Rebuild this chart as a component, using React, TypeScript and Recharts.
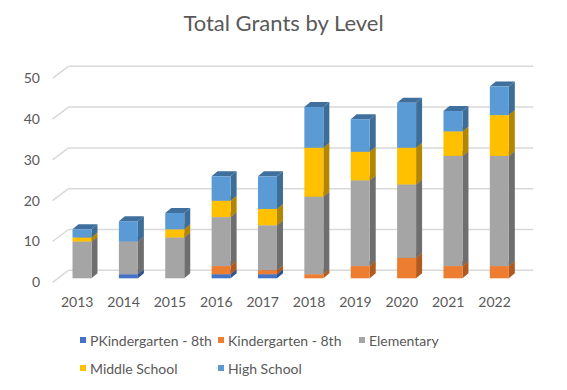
import React from 'react';
import { BarChart, Bar, XAxis, YAxis, CartesianGrid } from 'recharts';

document.body.style.margin = '0';

const years = ['2013', '2014', '2015', '2016', '2017', '2018', '2019', '2020', '2021', '2022'];
const pkinder = [0, 1, 0, 1, 1, 0, 0, 0, 0, 0];
const kinder = [0, 0, 0, 2, 1, 1, 3, 5, 3, 3];
const elementary = [9, 8, 10, 12, 11, 19, 21, 18, 27, 27];
const middle = [1, 0, 2, 4, 4, 12, 7, 9, 6, 10];
const high = [2, 5, 4, 6, 8, 10, 8, 11, 5, 7];
const yTicks = [0, 10, 20, 30, 40, 50];

const series = [
  { key: 'pk', name: 'PKindergarten - 8th', color: '#4472C4', side: '#2f5190', top: '#3761ab' },
  { key: 'k', name: 'Kindergarten - 8th', color: '#ED7D31', side: '#b05a1f', top: '#c9692a' },
  { key: 'e', name: 'Elementary', color: '#A5A5A5', side: '#6e6e6e', top: '#888888' },
  { key: 'm', name: 'Middle School', color: '#FFC000', side: '#b38600', top: '#d9a300' },
  { key: 'h', name: 'High School', color: '#5B9BD5', side: '#3e6d98', top: '#3f6f9c' },
];

const data = years.map((year, i) => ({
  year,
  pk: pkinder[i],
  k: kinder[i],
  e: elementary[i],
  m: middle[i],
  h: high[i],
}));

const FONT = 'Lato, "Open Sans", sans-serif';
const TEXT = '#595959';
const DX = 6;
const DY = 5;

// front face + darker side and top faces for the 3D look
const makeShape = (s: typeof series[number]) => (props: any) => {
  const { x, y, width, height } = props;
  if (!height || height <= 0) return null;
  return (
    <g>
      <polygon
        points={`${x},${y} ${x + DX},${y - DY} ${x + width + DX},${y - DY} ${x + width},${y}`}
        fill={s.top}
      />
      <polygon
        points={`${x + width},${y} ${x + width + DX},${y - DY} ${x + width + DX},${y + height - DY} ${x + width},${y + height}`}
        fill={s.side}
      />
      <rect x={x} y={y} width={width} height={height} fill={s.color} />
    </g>
  );
};

// back-wall gridline with the little diagonal to the front edge
const gridLine = (props: any) => {
  const { x1, x2, y1, key } = props;
  return (
    <g key={key}>
      <line x1={x1 - 6} y1={y1 + 4} x2={x1 + 10} y2={y1 - 8} stroke="#d9d9d9" strokeWidth={1.5} />
      <line x1={x1 + 10} y1={y1 - 8} x2={x2 + 11} y2={y1 - 8} stroke="#d9d9d9" strokeWidth={1.5} />
    </g>
  );
};

const YTick = (props: any) => {
  const { y, payload } = props;
  return (
    <text x={40} y={y + 4} dy="0.35em" textAnchor="end" fill={TEXT} fontSize={14} fontFamily={FONT}>
      {payload.value}
    </text>
  );
};

const XTick = (props: any) => {
  const { x, payload } = props;
  return (
    <text x={x - 4.5} y={307} textAnchor="middle" fill={TEXT} fontSize={14} fontFamily={FONT}>
      {payload.value}
    </text>
  );
};

function LegendBox() {
  const cols = [80, 218, 359];
  return (
    <div style={{ position: 'absolute', left: 0, top: 0, width: 567, height: 390, pointerEvents: 'none' }}>
      {series.map((s, i) => {
        const left = cols[i % 3];
        const top = i < 3 ? 340 : 368;
        return (
          <div
            key={s.key}
            style={{
              position: 'absolute',
              left,
              top: top - 10,
              height: 20,
              display: 'flex',
              alignItems: 'center',
              fontFamily: FONT,
              fontSize: 14,
              color: TEXT,
              whiteSpace: 'nowrap',
            }}
          >
            <span style={{ width: 6, height: 6, background: s.color, marginRight: 4, display: 'inline-block' }} />
            {s.name}
          </div>
        );
      })}
    </div>
  );
}

export default function App() {
  return (
    <div style={{ position: 'relative', width: 567, height: 390, background: '#fff' }}>
      <div
        style={{
          position: 'absolute',
          left: 0,
          width: 567,
          top: 9,
          textAlign: 'center',
          fontFamily: FONT,
          fontSize: 22,
          color: TEXT,
        }}
      >
        Total Grants by Level
      </div>
      <BarChart
        width={567}
        height={390}
        data={data}
        barSize={19}
        margin={{ top: 74.3, right: 44.8, bottom: 81.7, left: 0 }}
      >
        <CartesianGrid vertical={false} horizontal={gridLine} />
        <XAxis dataKey="year" axisLine={false} tickLine={false} height={30} tick={XTick} interval={0} />
        <YAxis
          domain={[0, 50]}
          ticks={yTicks}
          axisLine={false}
          tickLine={false}
          width={58.5}
          tick={YTick}
          interval={0}
        />
        {series.map((s) => (
          <Bar
            key={s.key}
            dataKey={s.key}
            name={s.name}
            stackId="a"
            fill={s.color}
            shape={makeShape(s)}
            isAnimationActive={false}
          />
        ))}
      </BarChart>
      <LegendBox />
    </div>
  );
}
